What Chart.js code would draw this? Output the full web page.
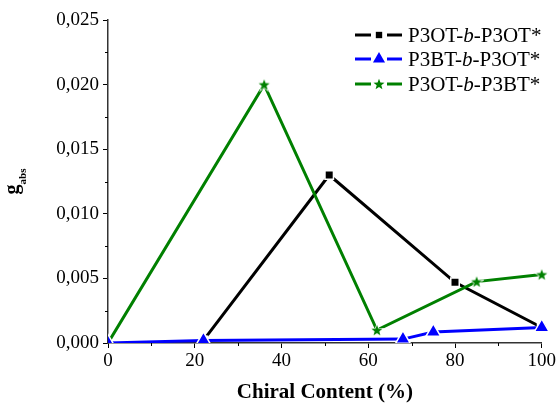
<!DOCTYPE html>
<html>
<head>
<meta charset="utf-8">
<script src="https://cdn.jsdelivr.net/npm/chart.js@4.4.0/dist/chart.umd.min.js"></script>
<style>
  html, body { margin: 0; padding: 0; background: #fff; }
  #wrap { width: 558px; height: 405px; }
</style>
</head>
<body>
<div id="wrap"><canvas id="gChart" width="558" height="405" aria-label="gabs vs chiral content"></canvas></div>
<script>
// values
const seriesNames = ['P3OT-b-P3OT*', 'P3BT-b-P3OT*', 'P3OT-b-P3BT*'];

const p3otP3otX = [22, 51, 80, 100];
const p3otP3otY = [0.0002, 0.0130, 0.0047, 0.0012];

const p3btP3otX = [0, 22, 68, 75, 100];
const p3btP3otY = [0, 0.0002, 0.0003, 0.00085, 0.0012];

const p3otP3btX = [0, 36, 62, 85, 100];
const p3otP3btY = [0, 0.0200, 0.0010, 0.00475, 0.0053];

const xTicks = [0, 20, 40, 60, 80, 100];
const yTicks = [0, 0.005, 0.010, 0.015, 0.020, 0.025];

const toPoints = (xs, ys) => xs.map((x, i) => ({ x: x, y: ys[i] }));

// filled star for the green series
const makeStar = (size, color) => {
  const c = document.createElement('canvas');
  c.width = size; c.height = size;
  const ctx = c.getContext('2d');
  const cx = size / 2, cy = size / 2 + 0.5;
  const outer = size / 2 - 1.2, inner = outer * 0.42;
  ctx.beginPath();
  for (let i = 0; i < 10; i++) {
    const r = i % 2 === 0 ? outer : inner;
    const a = -Math.PI / 2 + i * Math.PI / 5;
    ctx.lineTo(cx + r * Math.cos(a), cy + r * Math.sin(a));
  }
  ctx.closePath();
  ctx.lineWidth = 1.5;
  ctx.strokeStyle = '#fff';
  ctx.stroke();
  ctx.fillStyle = color;
  ctx.fill();
  return c;
};
const starImg = makeStar(14, '#008000');

const serif = "'Liberation Serif', 'Times New Roman', serif";
const edgeClip = { left: 0, bottom: 0, top: false, right: false };

const extras = {
  id: 'extras',
  afterDraw(chart) {
    const ctx = chart.ctx;
    const xs = chart.scales.x, ys = chart.scales.y;
    const area = chart.chartArea;
    ctx.save();
    // minor ticks
    ctx.strokeStyle = '#000';
    ctx.lineWidth = 1;
    [10, 30, 50, 70, 90].forEach(v => {
      const px = Math.round(xs.getPixelForValue(v)) + 0.5;
      ctx.beginPath(); ctx.moveTo(px, area.bottom); ctx.lineTo(px, area.bottom + 3); ctx.stroke();
    });
    [0.0025, 0.0075, 0.0125, 0.0175, 0.0225].forEach(v => {
      const py = Math.round(ys.getPixelForValue(v)) + 0.5;
      ctx.beginPath(); ctx.moveTo(area.left, py); ctx.lineTo(area.left - 3, py); ctx.stroke();
    });

    // x title
    ctx.fillStyle = '#000';
    ctx.font = 'bold 21px ' + serif;
    ctx.textAlign = 'center';
    ctx.textBaseline = 'alphabetic';
    ctx.fillText('Chiral Content (%)', (area.left + area.right) / 2, 398);

    // y title g_abs
    ctx.save();
    ctx.translate(0, (area.top + area.bottom) / 2);
    ctx.rotate(-Math.PI / 2);
    ctx.font = 'bold 20px ' + serif;
    const gw = ctx.measureText('g').width;
    ctx.font = 'bold 11px ' + serif;
    const sw = ctx.measureText('abs').width;
    const start = -(gw + sw) / 2;
    ctx.textAlign = 'left';
    ctx.font = 'bold 20px ' + serif;
    ctx.fillText('g', start, 18);
    ctx.font = 'bold 11px ' + serif;
    ctx.fillText('abs', start + gw, 26);
    ctx.restore();

    // legend
    const rows = [
      { color: '#000', style: 'rect', r: 4.5, y: 35 },
      { color: '#0000ff', style: 'triangle', r: 7, y: 59 },
      { color: '#008000', style: starImg, r: 6, y: 84 }
    ];
    rows.forEach((row, i) => {
      ctx.strokeStyle = row.color;
      ctx.lineWidth = 3;
      ctx.beginPath(); ctx.moveTo(355, row.y); ctx.lineTo(371, row.y); ctx.stroke();
      ctx.beginPath(); ctx.moveTo(387, row.y); ctx.lineTo(402, row.y); ctx.stroke();
      ctx.fillStyle = row.color;
      ctx.strokeStyle = row.color;
      ctx.lineWidth = 1;
      Chart.helpers.drawPoint(ctx, { pointStyle: row.style, radius: row.r, rotation: 0, borderWidth: 0 }, 379, row.y);
      const parts = seriesNames[i].split('-');
      ctx.fillStyle = '#000';
      ctx.textAlign = 'left';
      ctx.textBaseline = 'middle';
      let tx = 408;
      const ty = row.y + 1;
      ctx.font = '21px ' + serif;
      ctx.fillText(parts[0] + '-', tx, ty);
      tx += ctx.measureText(parts[0] + '-').width;
      ctx.font = 'italic 21px ' + serif;
      ctx.fillText(parts[1], tx, ty);
      tx += ctx.measureText(parts[1]).width;
      ctx.font = '21px ' + serif;
      ctx.fillText('-' + parts[2], tx, ty);
    });
    ctx.restore();
  }
};

new Chart(document.getElementById('gChart'), {
  type: 'line',
  data: {
    datasets: [
      {
        label: seriesNames[0],
        data: toPoints(p3otP3otX, p3otP3otY),
        borderColor: '#000',
        backgroundColor: '#000',
        borderWidth: 3,
        pointStyle: 'rect',
        pointRadius: 6,
        pointBorderColor: '#fff',
        pointBorderWidth: 1.5,
        order: 3,
        clip: edgeClip
      },
      {
        label: seriesNames[1],
        data: toPoints(p3btP3otX, p3btP3otY),
        borderColor: '#0000ff',
        backgroundColor: '#0000ff',
        borderWidth: 3,
        pointStyle: 'triangle',
        pointRadius: 8.5,
        pointBorderColor: '#fff',
        pointBorderWidth: 1.5,
        order: 1,
        clip: edgeClip
      },
      {
        label: seriesNames[2],
        data: toPoints(p3otP3btX, p3otP3btY),
        borderColor: '#008000',
        backgroundColor: '#008000',
        borderWidth: 3,
        pointStyle: starImg,
        pointRadius: 6,
        order: 2,
        clip: edgeClip
      }
    ]
  },
  options: {
    responsive: false,
    animation: false,
    layout: { padding: { top: 20, right: 15, left: 0, bottom: 0 } },
    plugins: { legend: { display: false }, tooltip: { enabled: false } },
    scales: {
      x: {
        type: 'linear',
        min: 0,
        max: 100,
        afterFit: (s) => { s.height = 62; },
        afterBuildTicks: (s) => { s.ticks = xTicks.map(v => ({ value: v })); },
        ticks: { color: '#000', font: { family: serif, size: 19 }, padding: 2, maxRotation: 0 },
        grid: { drawOnChartArea: false, drawTicks: true, tickLength: 5, color: '#000' },
        border: { display: true, color: '#333', width: 1.5 }
      },
      y: {
        type: 'linear',
        min: 0,
        max: 0.025,
        afterFit: (s) => { s.width = 108; },
        afterBuildTicks: (s) => { s.ticks = yTicks.map(v => ({ value: v })); },
        ticks: {
          color: '#000',
          font: { family: serif, size: 19 },
          padding: 4,
          callback: (v) => v.toFixed(3).replace('.', ',')
        },
        grid: { drawOnChartArea: false, drawTicks: true, tickLength: 5, color: '#000' },
        border: { display: true, color: '#333', width: 1.5 }
      }
    }
  },
  plugins: [extras]
});
</script>
</body>
</html>
